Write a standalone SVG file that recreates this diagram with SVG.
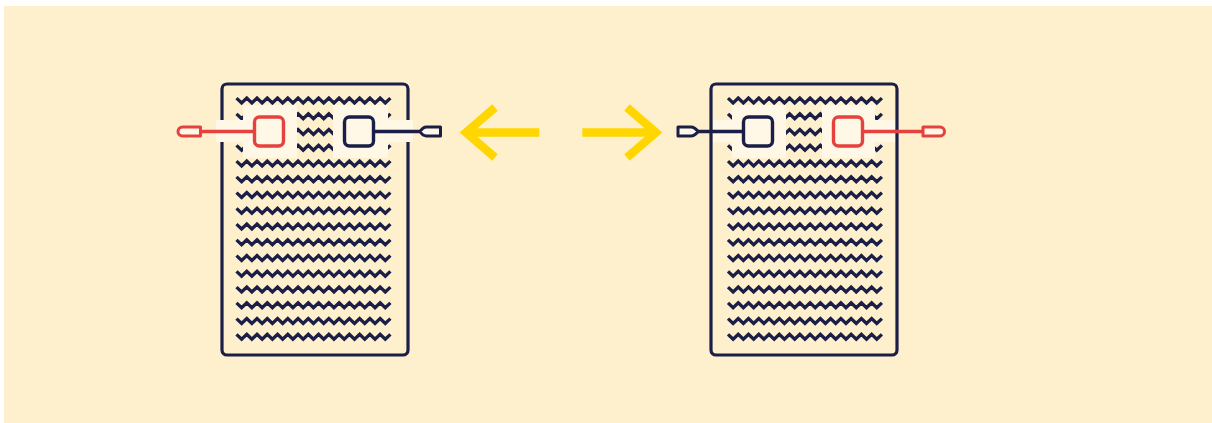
<svg xmlns="http://www.w3.org/2000/svg" width="1212" height="423" viewBox="0 0 1212 423">
<style>
.bg{fill:#FEF0CD}
.lt{fill:#FFF8E7}
.doc{fill:none;stroke:#1B1E46;stroke-width:3.2}
.zz{fill:none;stroke:#1B1E46;stroke-width:3.3;stroke-linejoin:miter}
.sqR{fill:#FFF8E7;stroke:#E5413E;stroke-width:3.4}
.sqD{fill:#FFF8E7;stroke:#1B1E46;stroke-width:3.4}
.lnR{stroke:#E5413E;stroke-width:3.3;fill:none}
.lnD{stroke:#1B1E46;stroke-width:3.3;fill:none}
.pinR{fill:#FFF8E7;stroke:#E5413E;stroke-width:3;stroke-linejoin:round}
.pinD{fill:#FFF8E7;stroke:#1B1E46;stroke-width:3;stroke-linejoin:round}
.arr{fill:none;stroke:#FFD600;stroke-width:8.3;stroke-linecap:butt;stroke-linejoin:miter}
</style>
<defs>
<path id="zz" class="zz" d="M0,-2.4l5.13,4.8 5.13,-4.8 5.13,4.8 5.13,-4.8 5.13,4.8 5.13,-4.8 5.13,4.8 5.13,-4.8 5.13,4.8 5.13,-4.8 5.13,4.8 5.13,-4.8 5.13,4.8 5.13,-4.8 5.13,4.8 5.13,-4.8 5.13,4.8 5.13,-4.8 5.13,4.8 5.13,-4.8 5.13,4.8 5.13,-4.8 5.13,4.8 5.13,-4.8 5.13,4.8 5.13,-4.8 5.13,4.8 5.13,-4.8 5.13,4.8 5.13,-4.8"/>
<g id="rows">
<use href="#zz" y="100.5"/>
<use href="#zz" y="116.25"/>
<use href="#zz" y="132"/>
<use href="#zz" y="147.75"/>
<use href="#zz" y="163.5"/>
<use href="#zz" y="179.25"/>
<use href="#zz" y="195"/>
<use href="#zz" y="210.75"/>
<use href="#zz" y="226.5"/>
<use href="#zz" y="242.25"/>
<use href="#zz" y="258"/>
<use href="#zz" y="273.75"/>
<use href="#zz" y="289.5"/>
<use href="#zz" y="305.25"/>
<use href="#zz" y="321"/>
<use href="#zz" y="336.75"/>
</g>
</defs>
<rect class="bg" x="4" y="6" width="1208" height="417"/>

<g id="doc-left">
<use href="#rows" x="236.5"/>
<rect class="doc" x="222" y="84" width="186" height="271" rx="5"/>
<rect class="lt" x="243" y="105" width="54" height="53"/>
<rect class="lt" x="333" y="105" width="55" height="53"/>
<rect class="lt" x="216" y="120" width="27" height="22"/>
<rect class="lt" x="388" y="120" width="25" height="22"/>
<line class="lnR" x1="200" y1="131.5" x2="254.5" y2="131.5"/>
<path class="pinR" d="M200.5,127H182.5A4.5,4.5 0 0 0 182.5,136H200.5Z"/>
<rect class="sqR" x="254.5" y="117" width="29" height="29" rx="5"/>
<line class="lnD" x1="373.5" y1="131.5" x2="421" y2="131.5"/>
<path class="pinD" d="M420,131.5Q423,127 426.5,127H440.5V136H426.5Q423,136 420,131.5Z"/>
<rect class="sqD" x="344.5" y="117" width="29" height="29" rx="5"/>
</g>

<g id="doc-right">
<use href="#rows" x="728"/>
<rect class="lt" x="732" y="105" width="54" height="53"/>
<rect class="lt" x="822" y="105" width="53" height="53"/>
<rect class="lt" x="713" y="120" width="19" height="22"/>
<rect class="lt" x="875" y="120" width="20" height="22"/>
<rect class="doc" x="711" y="84" width="186" height="271" rx="5"/>
<line class="lnD" x1="697" y1="131.5" x2="743.5" y2="131.5"/>
<path class="pinD" d="M678,127H691Q694.5,127 698,131.5Q694.5,136 691,136H678Z"/>
<rect class="sqD" x="743.5" y="117" width="29" height="29" rx="5"/>
<line class="lnR" x1="862.5" y1="131.5" x2="923" y2="131.5"/>
<path class="pinR" d="M923,127H940A4.5,4.5 0 0 1 940,136H923Z"/>
<rect class="sqR" x="833.5" y="117" width="29" height="29" rx="5"/>
</g>

<g id="arrows">
<polyline class="arr" points="495,107.5 466,132.5 495,157.5"/>
<line class="arr" x1="468" y1="132.5" x2="539.3" y2="132.5"/>
<polyline class="arr" points="627,107.5 656,132.5 627,157.5"/>
<line class="arr" x1="582.3" y1="132.5" x2="654" y2="132.5"/>
</g>
</svg>
